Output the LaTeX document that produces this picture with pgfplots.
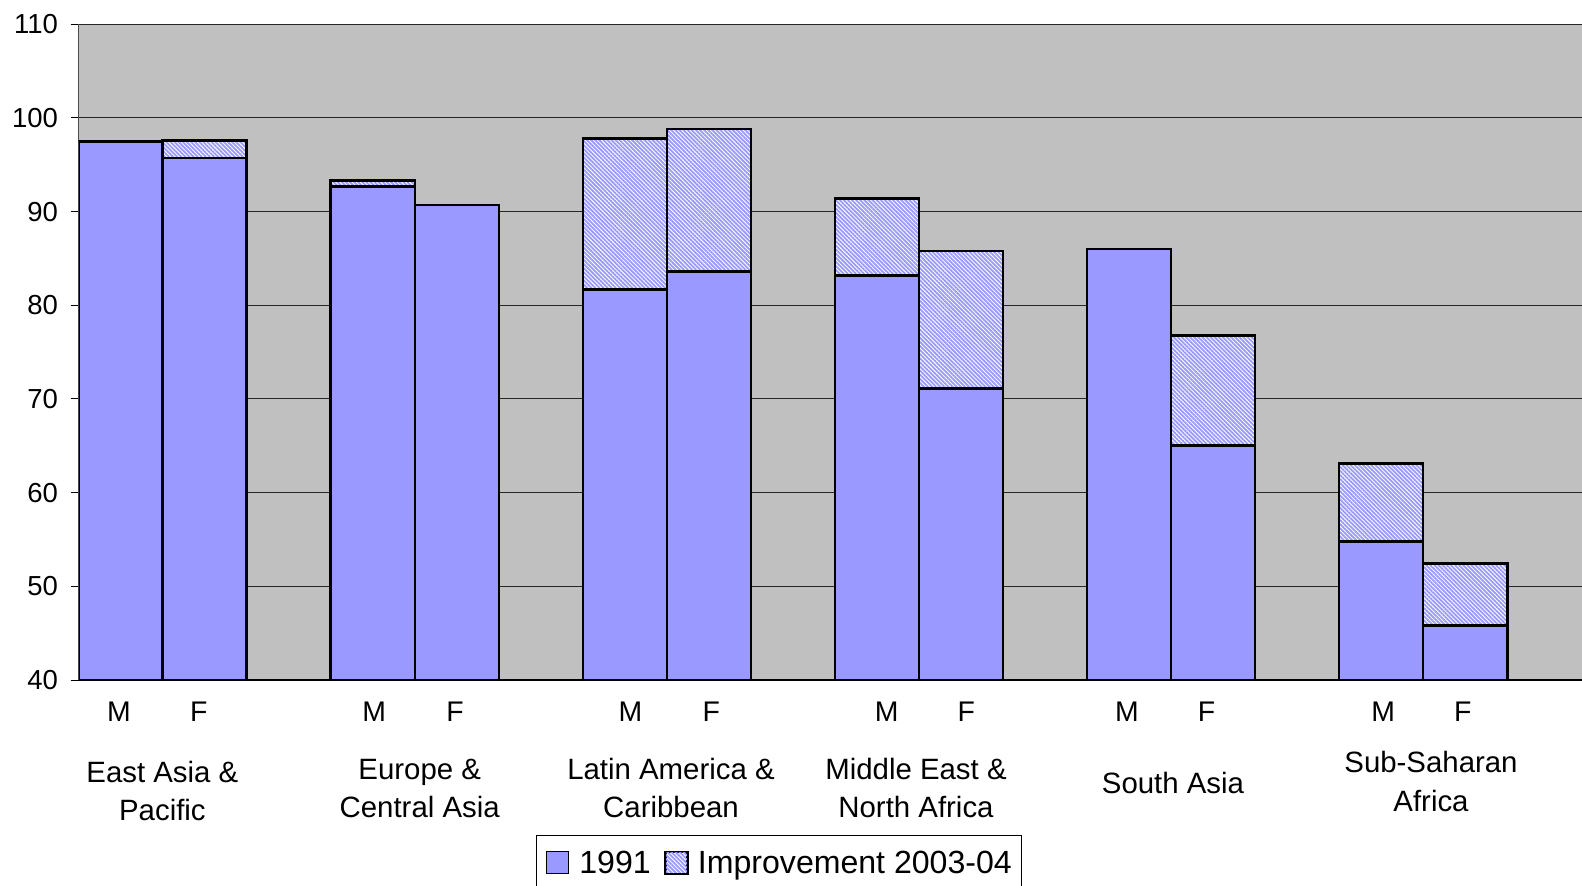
\documentclass[border=0pt]{standalone}
\usepackage{fontspec}
\setmainfont{Liberation Sans}
\usepackage{pgfplots}
\pgfplotsset{compat=1.18}
\usetikzlibrary{patterns.meta}
\definecolor{barblue}{HTML}{9999FF}
\definecolor{bggray}{HTML}{C0C0C0}
\begin{document}
\begin{tikzpicture}
\begin{axis}[
  at={(0,0)}, anchor=south west,
  scale only axis, width=1503.3bp, height=655.8bp,
  xmin=0, xmax=17.89, ymin=40, ymax=110,
  ybar stacked, bar width=1,
  axis background/.style={fill=bggray},
  axis x line*=bottom, axis y line*=left,
  x axis line style={black, line width=1.5bp},
  y axis line style={black!70, line width=1.5bp},
  tick align=outside,
  ytick={40,50,...,110},
  ymajorgrids,
  grid style={black!85, line width=1.1bp},
  major tick length=8bp,
  ytick style={black, line width=1bp},
  xtick={0.480,1.429,3.518,4.478,6.567,7.527,9.617,10.564,12.474,13.421,15.523,16.472},
  xticklabels={M,F,M,F,M,F,M,F,M,F,M,F},
  xtick style={draw=none},
  minor xtick={0,1,...,17},
  minor tick length=16bp,
  minor tick style={black!80, line width=1bp},
  /pgf/number format/assume math mode=true,
  yticklabel style={font=\fontsize{27.6}{32}\selectfont, anchor=east, inner sep=0bp, xshift=-12.5bp},
  xticklabel style={font=\fontsize{28.5}{32}\selectfont, anchor=base, inner sep=0bp, yshift=-33.7bp},
  legend columns=-1,
  legend style={at={(0.304,-0.237)}, anchor=north west, draw=black, line width=1bp, fill=white,
    font=\fontsize{32.2}{37}\selectfont, inner xsep=10bp, inner ysep=15bp,
    nodes={inner sep=0bp},
    /tikz/every odd column/.append style={column sep=10bp},
    /tikz/every even column/.append style={column sep=14bp}},
  legend image code/.code={\draw[#1, line width=1.2bp] (0bp,-11bp) rectangle (22bp,11bp);},
]
\addplot[fill=barblue, draw=black, line width=2.6bp] coordinates {
  (0.5,97.5) (1.5,95.7) (3.5,92.7) (4.5,90.7) (6.5,81.7) (7.5,83.6)
  (9.5,83.2) (10.5,71.1) (12.5,86.0) (13.5,65.0) (15.5,54.8) (16.5,45.8)};
\addlegendentry{1991}
\addplot[preaction={fill=white}, pattern={Lines[angle=-45,distance=2.9bp,line width=1.8bp]}, pattern color=barblue, draw=black, line width=2.6bp] coordinates {
  (0.5,0) (1.5,1.9) (3.5,0.6) (4.5,0) (6.5,16.1) (7.5,15.2)
  (9.5,8.2) (10.5,14.7) (12.5,0) (13.5,11.8) (15.5,8.3) (16.5,6.65)};
\addlegendentry{Improvement 2003-04}
\end{axis}
\begin{scope}[every node/.style={font=\fontsize{29.5}{34}\selectfont, anchor=base, inner sep=0bp}]
\node at (83.7bp,-102bp) {East Asia \&};
\node at (83.7bp,-140bp) {Pacific};
\node at (341bp,-99bp) {Europe \&};
\node at (341bp,-137bp) {Central Asia};
\node at (592.3bp,-99bp) {Latin America \&};
\node at (592.3bp,-137bp) {Caribbean};
\node at (837.3bp,-99bp) {Middle East \&};
\node at (837.3bp,-137bp) {North Africa};
\node at (1094.3bp,-113bp) {South Asia};
\node at (1352.3bp,-92.8bp) {Sub-Saharan};
\node at (1352.3bp,-131bp) {Africa};
\end{scope}
\pgfresetboundingbox
\path[use as bounding box] (-78.7bp,-206bp) rectangle (1503.3bp,680bp);
\end{tikzpicture}
\end{document}
